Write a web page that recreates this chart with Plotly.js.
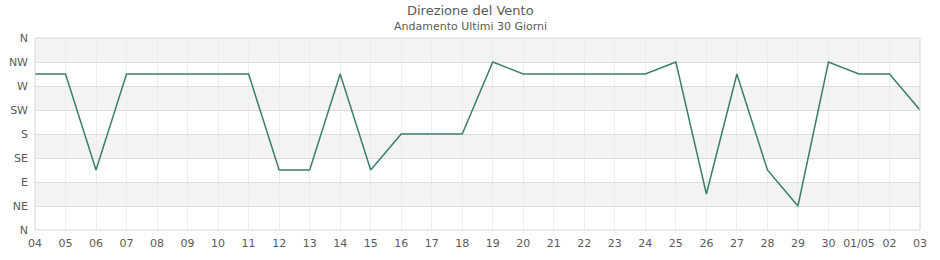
<!DOCTYPE html>
<html>
<head>
<meta charset="utf-8">
<script src="https://cdn.plot.ly/plotly-3.0.1.min.js"></script>
<style>html,body{margin:0;padding:0;background:#fff}#chart{width:940px;height:260px}</style>
</head>
<body>
<div id="chart"></div>
<script>
const days = ["04","05","06","07","08","09","10","11","12","13","14","15","16","17","18","19","20","21","22","23","24","25","26","27","28","29","30","01/05","02","03"];
const direction = [292.5,292.5,112.5,292.5,292.5,292.5,292.5,292.5,112.5,112.5,292.5,112.5,180,180,180,315,292.5,292.5,292.5,292.5,292.5,315,67.5,292.5,112.5,45,315,292.5,292.5,225];
const yTickVals = [0,45,90,135,180,225,270,315,360];
const yTickText = ["N","NE","E","SE","S","SW","W","NW","N"];
const titleText = "Direzione del Vento";
const subtitleText = "Andamento Ultimi 30 Giorni";

const W = 940, H = 260;
const margin = {l:35, r:20, t:38, b:30};
const centerX = (W/2 - margin.l) / (W - margin.l - margin.r);

const shapes = [];
for (let i = 0; i < yTickVals.length - 1; i++) {
  if (i % 2 === 1) {
    shapes.push({type:'rect', xref:'paper', yref:'y', x0:0, x1:1, y0:yTickVals[i], y1:yTickVals[i+1],
      fillcolor:'#f3f3f3', line:{width:0}, layer:'below'});
  }
}
shapes.push({type:'rect', xref:'paper', yref:'paper', x0:0, x1:1, y0:0, y1:1, line:{color:'#d8d8d8', width:1}, fillcolor:'rgba(0,0,0,0)'});

const trace = {
  x: days, y: direction, type:'scatter', mode:'lines',
  line:{color:'#3b7f6a', width:1.5}, hoverinfo:'skip'
};

const layout = {
  width:W, height:H,
  margin:margin,
  paper_bgcolor:'#fff', plot_bgcolor:'#fff',
  font:{family:'DejaVu Sans, sans-serif', size:11, color:'#5a5a5a'},
  showlegend:false,
  xaxis:{type:'category', range:[0, days.length-1], showgrid:true, gridcolor:'#ececf8', gridwidth:1,
    zeroline:false, showline:false, ticks:'', ticklabelstandoff:5, tickfont:{size:11, color:'#5a5a5a'}, tickangle:0, fixedrange:true},
  yaxis:{range:[0,360], tickvals:yTickVals, ticktext:yTickText, showgrid:true, gridcolor:'#dddddd', gridwidth:1,
    zeroline:false, showline:false, ticks:'', ticklabelstandoff:6, tickfont:{size:11, color:'#5a5a5a'}, fixedrange:true},
  shapes: shapes,
  annotations:[
    {text:titleText, xref:'paper', yref:'paper', x:centerX, y:1, yshift:28, xanchor:'center', yanchor:'middle', showarrow:false,
      font:{size:13, color:'#5a5a5a', family:'DejaVu Sans, sans-serif'}},
    {text:subtitleText, xref:'paper', yref:'paper', x:centerX, y:1, yshift:12, xanchor:'center', yanchor:'middle', showarrow:false,
      font:{size:11, color:'#5a5a5a', family:'DejaVu Sans, sans-serif'}}
  ]
};
Plotly.newPlot('chart', [trace], layout, {displayModeBar:false, staticPlot:true});
</script>
</body>
</html>
